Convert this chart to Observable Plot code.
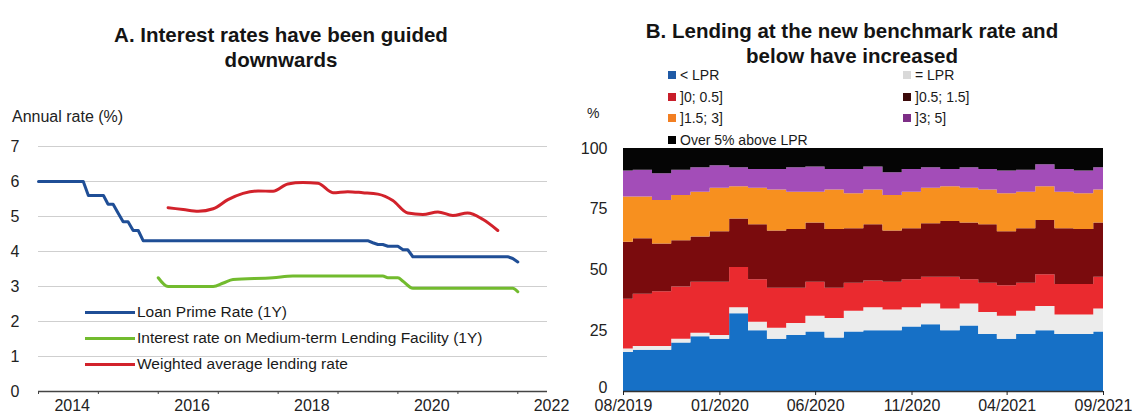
<!DOCTYPE html>
<html>
<head>
<meta charset="utf-8">
<script src="https://cdn.jsdelivr.net/npm/d3@7"></script>
<script src="https://cdn.jsdelivr.net/npm/@observablehq/plot@0.6"></script>
<style>
  body { margin:0; background:#fff; width:1135px; height:415px; overflow:hidden; position:relative;
         font-family:"Liberation Sans",Arial,sans-serif; color:#111; }
  .abs { position:absolute; white-space:nowrap; }
  .title { font-weight:bold; font-size:20.5px; line-height:25px; text-align:center; color:#141414; }
  .lgA { font-size:15.5px; line-height:18px; display:flex; align-items:center; color:#1a1a1a; }
  .lgA .ln { width:50px; height:3px; margin-right:2px; }
  .lgB { font-size:14px; line-height:16px; display:flex; align-items:center; color:#1a1a1a; }
  .lgB .sq { width:8px; height:8px; margin-right:4px; }
  .unit { color:#222; }
</style>
</head>
<body>
<div class="abs title" style="left:0;top:22px;width:562px;">A. Interest rates have been guided<br>downwards</div>
<div class="abs title" style="left:572px;top:18px;width:560px;">B. Lending at the new benchmark rate and<br>below have increased</div>
<div class="abs unit" style="left:12px;top:108px;font-size:16px;">Annual rate (%)</div>
<div class="abs unit" style="left:587px;top:105px;font-size:14px;">%</div>
<div id="chartA" class="abs" style="left:0;top:120px;"></div>
<div id="chartB" class="abs" style="left:575px;top:120px;"></div>
<div id="legendA"></div>
<div id="legendB"></div>
<script>
// ---------- Panel A data ----------
const lprDates  = ["2014-01","2014-10","2014-11","2015-02","2015-03","2015-04","2015-05","2015-06","2015-07","2015-08","2015-09","2015-10","2019-07","2019-08","2019-09","2019-10","2019-11","2020-01","2020-02","2020-03","2020-04","2021-11","2021-12","2022-01"];
const lprValues = [6.0,6.0,5.6,5.6,5.35,5.35,5.1,4.85,4.85,4.6,4.6,4.31,4.31,4.25,4.2,4.2,4.15,4.15,4.05,4.05,3.85,3.85,3.8,3.7];

const mlfDates  = ["2016-01","2016-03","2016-12","2017-02","2017-04","2017-12","2018-04","2019-10","2019-11","2020-01","2020-02","2020-04","2021-12","2022-01"];
const mlfValues = [3.25,3.0,3.0,3.1,3.2,3.25,3.3,3.3,3.25,3.25,3.15,2.95,2.95,2.85];

const walrDates  = ["2016-03","2016-06","2016-09","2016-12","2017-03","2017-06","2017-09","2017-12","2018-03","2018-06","2018-09","2018-12","2019-03","2019-06","2019-09","2019-12","2020-03","2020-06","2020-09","2020-12","2021-03","2021-06","2021-09"];
const walrValues = [5.25,5.2,5.15,5.22,5.48,5.66,5.73,5.72,5.93,5.97,5.95,5.68,5.71,5.68,5.64,5.46,5.1,5.06,5.13,5.03,5.1,4.92,4.6];

const seriesA = ["Loan Prime Rate (1Y)","Interest rate on Medium-term Lending Facility (1Y)","Weighted average lending rate"];
const colorsA = ["#1f4e96","#72bb2e","#d2222b"];
const yTicksA = [0,1,2,3,4,5,6,7];
const yearTicksA = ["2014","2015","2016","2017","2018","2019","2020","2021","2022"];
const yearLabelsA = ["2014","2016","2018","2020","2022"];

// ---------- Panel B data ----------
const months = ["2019-08","2019-09","2019-10","2019-11","2019-12","2020-01","2020-02","2020-03","2020-04","2020-05","2020-06","2020-07","2020-08","2020-09","2020-10","2020-11","2020-12","2021-01","2021-02","2021-03","2021-04","2021-05","2021-06","2021-07","2021-08","2021-09"];
const categories = ["< LPR","= LPR","]0; 0.5]","]0.5; 1.5]","]1.5; 3]","]3; 5]","Over 5% above LPR"];
const shareBelow = [16,17,17,20,22.5,21.5,32,25,21.5,23,24.5,22,24.5,25,25,26.5,27.5,25,27,23.5,21.5,23.5,25,23.5,23.5,24.5];
const shareAt    = [1.5,1.5,1.5,1.5,1.5,1.5,2.5,3.5,4.5,5,6.5,8,8.5,9.5,8.5,8,8.5,9,9,9,9.5,9.5,10,8,8,9.5];
const share0_05  = [20.5,21.5,22.5,21.5,21,22,16.5,17.5,16.5,14.5,14,12.5,11.5,11,11.5,11.5,11,13,10,12,12.5,11.5,13,12.5,12.5,13];
const share05_15 = [23.4,22.9,19.7,19,18.6,20.7,20,22.6,23.5,24.2,24.3,24.2,22.5,23.1,21,21,22,23,23.3,24.1,22.2,22.5,22.4,23,22.7,22.3];
const share15_3  = [18.6,17.1,17.9,18.7,18.4,17.9,13.3,15,16.9,15.3,12.7,16.2,14.4,14.3,14.7,15,14.6,14.3,14.3,14.3,15.7,15,13.9,15,14.7,13.6];
const share3_5   = [10.7,11,11,10.3,10.1,9.3,7.8,7.8,8.5,10.1,10.4,8.5,10,9.5,9.3,9.4,8.5,7.1,8.5,8.5,9.3,9,9,9.4,9.3,9.2];
const shareOver5 = [9.3,9,10.4,9,7.9,7.1,7.9,8.6,8.6,7.9,7.6,8.6,8.6,7.6,10,8.6,7.9,8.6,7.9,8.6,9.3,9,6.7,8.6,9.3,7.9];
const areaColors   = ["#1670c6","#ececec","#ea2a2f","#7a0b0d","#f7901f","#a34db8","#050505"];
const legendColors = ["#1f5aa6","#d9d9d9","#c81e2a","#3b0a0a","#f27f22","#7d2e86","#000000"];
const yTicksB = [0,25,50,75,100];
const xTicksB = ["2019-08","2020-01","2020-06","2020-11","2021-04","2021-09"];

// ---------- helpers ----------
const toDate = s => new Date(s.length === 4 ? s + "-01-01" : s + "-01");
const font = '"Liberation Sans",Arial,sans-serif';

// ---------- Panel A ----------
const lineData = [
  ...lprDates.map((d,i)=>({date:toDate(d), value:lprValues[i], s:seriesA[0]})),
  ...mlfDates.map((d,i)=>({date:toDate(d), value:mlfValues[i], s:seriesA[1]})),
  ...walrDates.map((d,i)=>({date:toDate(d), value:walrValues[i], s:seriesA[2]}))
];
const midYear = y => new Date(Date.UTC(+y, 6, 1));

const chartA = Plot.plot({
  width: 575, height: 295,
  marginLeft: 38, marginRight: 28, marginTop: 26, marginBottom: 24,
  style: {fontFamily: font, fontSize: "16px", background: "transparent", color: "#222", overflow: "visible"},
  x: {type: "utc", domain: [toDate("2014"), new Date(Date.UTC(2022,6,1))]},
  y: {domain: [0, 7]},
  color: {domain: seriesA, range: colorsA},
  marks: [
    Plot.gridY(yTicksA.slice(1), {stroke: "#cfcfcf", strokeOpacity: 1, strokeWidth: 1}),
    Plot.ruleY([0], {stroke: "#444", strokeWidth: 1.3}),
    Plot.axisX(yearTicksA.map(toDate), {tickSize: 3, tickFormat: () => "", stroke: "#444", label: null}),
    Plot.axisX(yearLabelsA.map(midYear), {tickSize: 0, tickPadding: 8, dx: 4, tickFormat: d => String(d.getUTCFullYear()), label: null, fontSize: 16}),
    Plot.axisY(yTicksA, {tickSize: 0, tickPadding: 19, label: null, fontSize: 16}),
    Plot.line(lineData.filter(d => d.s === seriesA[1]), {x: "date", y: "value", stroke: "s", strokeWidth: 3, curve: "monotone-x"}),
    Plot.line(lineData.filter(d => d.s === seriesA[0]), {x: "date", y: "value", stroke: "s", strokeWidth: 3}),
    Plot.line(lineData.filter(d => d.s === seriesA[2]), {x: "date", y: "value", stroke: "s", strokeWidth: 3, curve: "monotone-x"})
  ]
});
document.getElementById("chartA").appendChild(chartA);

// legend A
const legA = document.getElementById("legendA");
const legATops = [303, 329, 355];
seriesA.forEach((s,i) => {
  const d = document.createElement("div");
  d.className = "abs lgA";
  d.style.left = "85px"; d.style.top = legATops[i] + "px";
  d.innerHTML = `<span class="ln" style="background:${colorsA[i]}"></span><span>${s}</span>`;
  legA.appendChild(d);
});

// ---------- Panel B ----------
const sharesB = [shareBelow, shareAt, share0_05, share05_15, share15_3, share3_5, shareOver5];
const tableB = months.flatMap((m,i) => categories.map((c,k) => ({date: toDate(m), cat: c, value: sharesB[k][i]})));

const chartB = Plot.plot({
  width: 560, height: 295,
  marginLeft: 48, marginRight: 32, marginTop: 28, marginBottom: 24,
  style: {fontFamily: font, fontSize: "16px", background: "transparent", color: "#222", overflow: "visible"},
  x: {type: "utc", domain: [toDate(months[0]), toDate(months[months.length-1])]},
  y: {domain: [0, 100]},
  color: {domain: categories, range: areaColors},
  marks: [
    Plot.areaY(tableB, {x: "date", y: "value", fill: "cat", order: categories, curve: "step"}),
    Plot.ruleY([0], {stroke: "#333", strokeWidth: 1.3}),
    Plot.axisX(xTicksB.map(toDate), {tickSize: 4, tickPadding: 4, tickFormat: d3.utcFormat("%m/%Y"), label: null, fontSize: 16}),
    Plot.axisY(yTicksB.slice(1), {tickSize: 0, tickPadding: 16, label: null, fontSize: 16}),
    Plot.axisY(yTicksB.slice(0,1), {tickSize: 0, tickPadding: 16, dy: -4, label: null, fontSize: 16})
  ]
});
document.getElementById("chartB").appendChild(chartB);

// legend B
const legB = document.getElementById("legendB");
const rowTops = [67, 88.5, 110, 131.5];
const legPos = [[0,0],[1,0],[0,1],[1,1],[0,2],[1,2],[0,3]];
categories.forEach((c,k) => {
  const [col,row] = legPos[k];
  const d = document.createElement("div");
  d.className = "abs lgB";
  d.style.left = (col ? 903 : 668) + "px";
  d.style.top = rowTops[row] + "px";
  d.innerHTML = `<span class="sq" style="background:${legendColors[k]}"></span><span>${c}</span>`;
  legB.appendChild(d);
});
</script>
</body>
</html>
